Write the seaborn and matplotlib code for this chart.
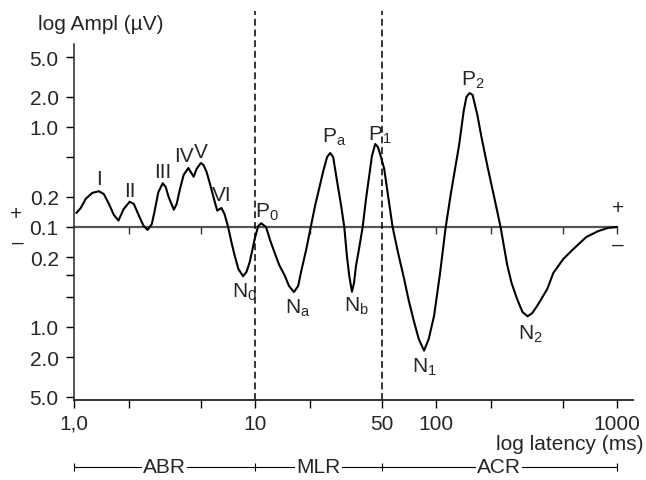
import numpy as np
import matplotlib
matplotlib.use("Agg")
import matplotlib.pyplot as plt
import seaborn as sns
import pandas as pd

# ==========================
# DATA
# ==========================

latency_ms = [
    1.03, 1.09, 1.16, 1.26, 1.37, 1.46, 1.56, 1.66, 1.76, 1.88,
    2.03, 2.14, 2.25, 2.42, 2.55, 2.69, 2.79, 2.92, 3.09, 3.21,
    3.33, 3.56, 3.69, 3.85, 4.03, 4.28, 4.58, 4.75, 5.02, 5.19,
    5.40, 5.64, 5.87, 6.18, 6.52, 6.78, 7.10, 7.40, 7.72, 8.09,
    8.59, 8.96, 9.34, 9.95, 10.4, 10.8, 11.5, 12.1, 12.8, 13.6,
    14.6, 15.4, 16.4, 17.3, 18.0, 19.2, 20.3, 21.5, 22.7, 23.8,
    25.0, 26.0, 27.0, 28.6, 29.9, 31.1, 32.2, 33.2, 34.3, 35.2,
    36.1, 37.5, 39.3, 41.0, 42.7, 44.2, 46.1, 47.7, 49.6, 51.7,
    54.2, 57.5, 61.5, 66.6, 70.7, 75.6, 80.2, 85.8, 91.0, 97.4,
    105, 113, 120, 128, 134, 142, 147, 153, 159, 169,
    178, 192, 208, 227, 247, 261, 280, 300, 320, 340,
    361, 381, 411, 444, 504, 565, 675, 785, 891, 1000,
]

# signed amplitude in microvolt (+ above baseline, - below)
ampl_uV = [
    0.138, 0.155, 0.191, 0.219, 0.228, 0.214, 0.170, 0.132, 0.116, 0.151,
    0.179, 0.170, 0.138, 0.103, -0.107, 0.107, 0.145, 0.222, 0.274, 0.251,
    0.200, 0.149, 0.170, 0.240, 0.331, 0.389, 0.318, 0.380, 0.437, 0.417,
    0.355, 0.269, 0.204, 0.146, 0.155, 0.135, 0.100, -0.141, -0.194, -0.263,
    -0.311, -0.282, -0.225, -0.132, 0.102, 0.109, 0.100, -0.135, -0.179, -0.240,
    -0.307, -0.389, -0.447, -0.389, -0.275, -0.166, 0.100, 0.166, 0.251, 0.363,
    0.501, 0.550, 0.501, 0.263, 0.162, 0.100, -0.200, -0.316, -0.444, -0.363,
    -0.245, -0.166, 0.100, 0.191, 0.324, 0.513, 0.676, 0.631, 0.501, 0.380,
    0.209, 0.100, -0.178, -0.331, -0.550, -0.891, -1.318, -1.726, -1.318, -0.776,
    -0.295, 0.100, 0.204, 0.407, 0.661, 1.445, 1.995, 2.188, 2.089, 1.318,
    0.794, 0.407, 0.209, 0.100, -0.240, -0.363, -0.525, -0.708, -0.782, -0.724,
    -0.617, -0.525, -0.417, -0.288, -0.209, -0.170, -0.126, -0.110, -0.102, -0.100,
]

# wave labels: name, index of the peak in the curve
peak_names = ["I", "II", "III", "IV", "V", "VI",
              r"N$_\mathregular{0}$", r"P$_\mathregular{0}$", r"N$_\mathregular{a}$",
              r"P$_\mathregular{a}$", r"N$_\mathregular{b}$", r"P$_\mathregular{1}$",
              r"N$_\mathregular{1}$", r"P$_\mathregular{2}$", r"N$_\mathregular{2}$"]
peak_index = [4, 10, 18, 25, 28, 34, 40, 45, 52, 61, 68, 76, 87, 97, 108]

x_ticks = [1, 2, 5, 10, 20, 50, 100, 200, 500, 1000]
x_ticklabels = ["1,0", "", "", "10", "", "50", "100", "", "", "1000"]
baseline_ticks = [2, 5, 20, 100, 200, 500, 1000]

y_ticks = [5, 2, 1, 0.5, 0.2, 0.1, -0.2, -0.3, -0.5, -1, -2, -5]
y_ticklabels = ["5.0", "2.0", "1.0", "", "0.2", "0.1", "0.2", "", "", "1.0", "2.0", "5.0"]

region_names = ["ABR", "MLR", "ACR"]
region_edges = [1, 10, 50, 1000]

df = pd.DataFrame({"latency": latency_ms, "ampl": ampl_uV})

# ==========================
# SCALE: log amplitude, mirrored around 0.1 uV
# ==========================

def fwd(a):
    a = np.asarray(a, dtype=float)
    return np.sign(a) * np.log10(np.maximum(np.abs(a), 0.1) / 0.1)

def inv(y):
    y = np.asarray(y, dtype=float)
    return np.sign(y) * 0.1 * 10 ** np.abs(y)

sns.set_style("ticks")
plt.rcParams["font.family"] = ["Liberation Sans", "DejaVu Sans"]
plt.rcParams["mathtext.fontset"] = "custom"
plt.rcParams["mathtext.rm"] = "Liberation Sans"

fs = 15
fig = plt.figure(figsize=(6.46, 4.81), dpi=100)
ax = fig.add_axes([74 / 646, 1 - 401 / 481, 559 / 646, 356 / 481])

# baseline
ax.hlines(0.1, region_edges[0], region_edges[-1], color="#555555", lw=1.6, zorder=1)
ax.plot(baseline_ticks, [0.1] * len(baseline_ticks), ls="none", marker=3,
        ms=5, mew=1.0, color="#333333", zorder=1)

sns.lineplot(data=df, x="latency", y="ampl", sort=False, estimator=None,
             color="black", lw=1.5, ax=ax, zorder=3)

ax.set_xscale("log")
ax.set_yscale("function", functions=(fwd, inv))
ax.set_xlim(1.026, 1223)
y_lo, y_hi = -1.73, 1.83
ax.set_ylim(inv(y_lo), inv(y_hi))

ax.set_xticks(x_ticks, labels=x_ticklabels)
ax.xaxis.set_minor_locator(matplotlib.ticker.NullLocator())
ax.set_yticks(y_ticks, labels=y_ticklabels)
ax.yaxis.set_minor_locator(matplotlib.ticker.NullLocator())
ax.tick_params(axis="both", direction="out", length=6, width=1.0,
               labelsize=fs, color="black")
ax.tick_params(axis="x", pad=4)
ax.tick_params(axis="y", pad=5)
ax.set_xlabel("")
ax.set_ylabel("")
sns.despine(ax=ax)
ax.spines["left"].set_linewidth(1.1)
ax.spines["bottom"].set_linewidth(1.4)
ax.spines["bottom"].set_color("#333333")

# dashed separators ABR | MLR | ACR
for edge in region_edges[1:-1]:
    ax.axvline(edge, ymin=0, ymax=1.093, color="black", lw=1.1,
               ls=(0, (4.5, 2.5)), clip_on=False, zorder=2)

# wave labels
label_offsets = [(0, 9), (0, 8), (0, 8.5), (-3, 9), (0, 8.5), (0, 9.5),
                 (1, -11), (4.5, 8.5), (3, -11), (3, 12), (3, -10), (3, 7),
                 (0, -11), (2, 10), (2, -12)]
for name, i, off in zip(peak_names, peak_index, label_offsets):
    ax.annotate(name, (latency_ms[i], ampl_uV[i]), xytext=off,
                textcoords="offset points", ha="center", va="center",
                fontsize=fs, zorder=4)

# axis titles and polarity marks
fig.text(38 / 646, 1 - 24 / 481, "log Ampl (\u00b5V)", fontsize=fs,
         ha="left", va="center")
fig.text(643 / 646, 1 - 444 / 481, "log latency (ms)", fontsize=fs,
         ha="right", va="center")
fig.text(16 / 646, 1 - 214 / 481, "+", fontsize=fs, ha="center", va="center")
fig.text(18 / 646, 1 - 243 / 481, "\u2013", fontsize=fs, ha="center", va="center")
fig.text(618 / 646, 1 - 209 / 481, "+", fontsize=fs, ha="center", va="center")
fig.text(618 / 646, 1 - 245 / 481, "\u2013", fontsize=fs, ha="center", va="center")

# ABR / MLR / ACR bar under the axis
bar_y = -0.188
trans = ax.get_xaxis_transform()
ax.plot(region_edges, [bar_y] * len(region_edges), transform=trans, color="black",
        lw=0.8, marker="|", ms=6, mew=0.8, clip_on=False)
for k, name in enumerate(region_names):
    mid = np.sqrt(region_edges[k] * region_edges[k + 1])
    ax.text(mid, bar_y, name, transform=trans, ha="center", va="center",
            fontsize=fs, clip_on=False,
            bbox=dict(facecolor="white", edgecolor="none", pad=0.8))

plt.savefig("out.png", dpi=100)
